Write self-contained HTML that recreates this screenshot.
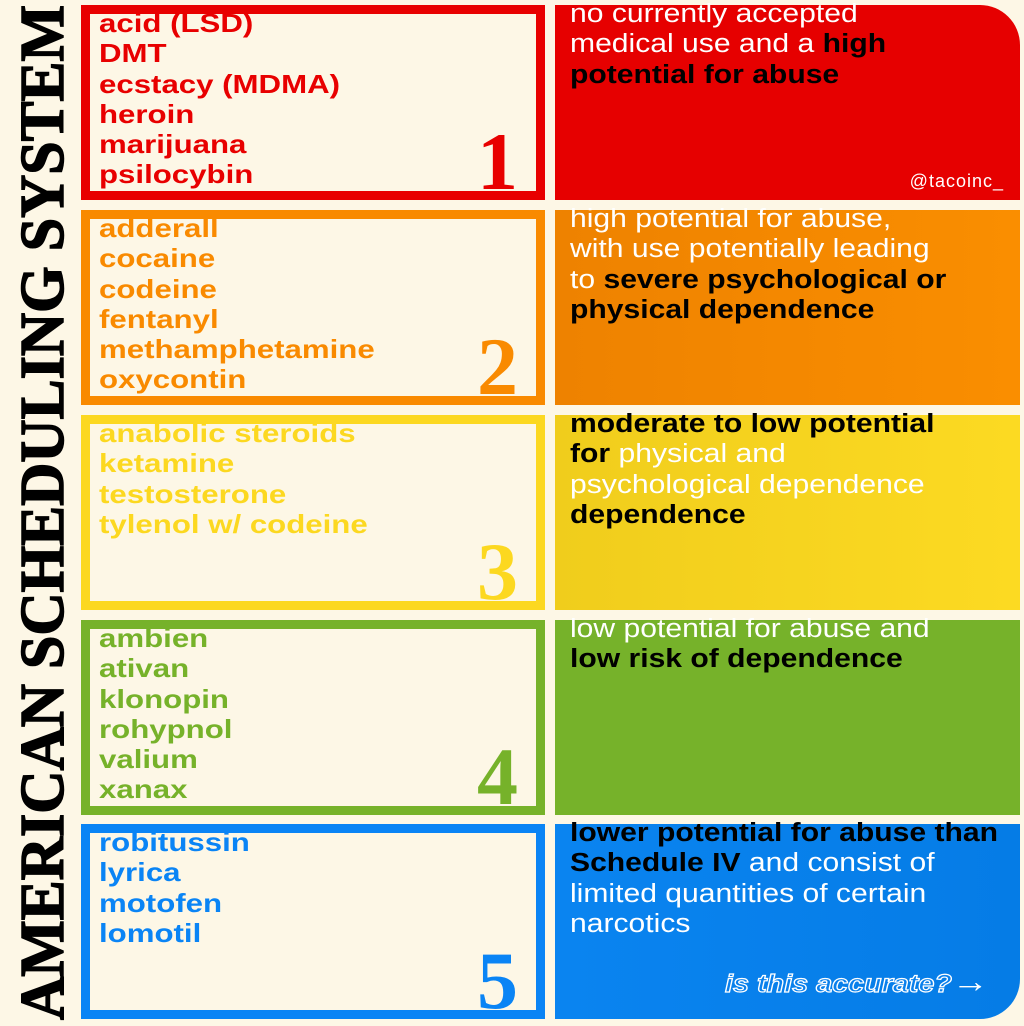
<!DOCTYPE html>
<html><head><meta charset="utf-8"><style>
*{margin:0;padding:0;box-sizing:border-box}
body{width:1024px;height:1024px;background:#fdf7e6;position:relative;overflow:hidden;font-family:"Liberation Sans",sans-serif}
.l{position:absolute;left:81px;width:464px;height:195px;border:9px solid;background:#fdf7e6}
.l .t{position:absolute;left:9px;top:-6px;font-size:26px;line-height:30.3px;font-weight:bold;transform:scaleX(1.2);transform-origin:0 0;white-space:nowrap}
.l .n{position:absolute;right:18px;bottom:-12px;font-family:"Liberation Serif",serif;font-weight:bold;font-size:82px;line-height:1}
.r{position:absolute;left:555px;width:465px;height:195px;color:#fff}
.r .t{position:absolute;left:15px;top:-6px;font-size:25.5px;line-height:30.3px;transform:scaleX(1.18);transform-origin:0 0;white-space:nowrap}
.r b{color:#000}
</style></head><body>
<svg style="position:absolute;left:0;top:0" width="80" height="1024">
<text transform="translate(63,1020) rotate(-90)" x="0" y="0" textLength="1015" lengthAdjust="spacingAndGlyphs" font-family="Liberation Serif" font-weight="bold" font-size="62" fill="#000" stroke="#000" stroke-width="1.5">AMERICAN SCHEDULING SYSTEM</text>
</svg>

<div class="l" style="top:5px;border-color:#e80000;color:#e80000"><div class="t">acid (LSD)<br>DMT<br>ecstacy (MDMA)<br>heroin<br>marijuana<br>psilocybin</div><div class="n">1</div></div>
<div class="l" style="top:210px;border-color:#f98a00;color:#f98a00"><div class="t">adderall<br>cocaine<br>codeine<br>fentanyl<br>methamphetamine<br>oxycontin</div><div class="n">2</div></div>
<div class="l" style="top:415px;border-color:#fcd820;color:#fcd820"><div class="t">anabolic steroids<br>ketamine<br>testosterone<br>tylenol w/ codeine</div><div class="n">3</div></div>
<div class="l" style="top:620px;border-color:#76b22a;color:#76b22a"><div class="t">ambien<br>ativan<br>klonopin<br>rohypnol<br>valium<br>xanax</div><div class="n">4</div></div>
<div class="l" style="top:824px;border-color:#0a84f5;color:#0a84f5"><div class="t">robitussin<br>lyrica<br>motofen<br>lomotil</div><div class="n">5</div></div>

<div class="r" style="top:5px;background:#e60000;border-top-right-radius:40px"><div class="t">no currently accepted<br>medical use and a <b>high</b><br><b>potential for abuse</b></div>
<div style="position:absolute;right:16px;top:166px;font-size:18px;letter-spacing:1px">@tacoinc_</div></div>
<div class="r" style="top:210px;background:linear-gradient(90deg,#ee8200,#fa8e00)"><div class="t">high potential for abuse,<br>with use potentially leading<br>to <b>severe psychological or</b><br><b>physical dependence</b></div></div>
<div class="r" style="top:415px;background:linear-gradient(90deg,#f0cd1c,#fcda22)"><div class="t"><b>moderate to low potential</b><br><b>for</b> physical and<br>psychological dependence<br><b>dependence</b></div></div>
<div class="r" style="top:620px;background:#76b22a"><div class="t">low potential for abuse and<br><b>low risk of dependence</b></div></div>
<div class="r" style="top:824px;height:195px;background:linear-gradient(90deg,#0a84f0,#057ce6);border-bottom-right-radius:40px"><div class="t"><b>lower potential for abuse than</b><br><b>Schedule IV</b> and consist of<br>limited quantities of certain<br>narcotics</div>
<div style="position:absolute;left:170px;top:146px;font-size:25px;font-style:italic;font-weight:bold;color:#0a80ec;-webkit-text-stroke:1.2px #fff;transform:scaleX(1.15);transform-origin:0 0;white-space:nowrap">is this accurate?<span style="-webkit-text-stroke:0;color:#fff;font-style:normal;font-weight:normal;font-size:32px;line-height:0">→</span></div></div>
</body></html>
